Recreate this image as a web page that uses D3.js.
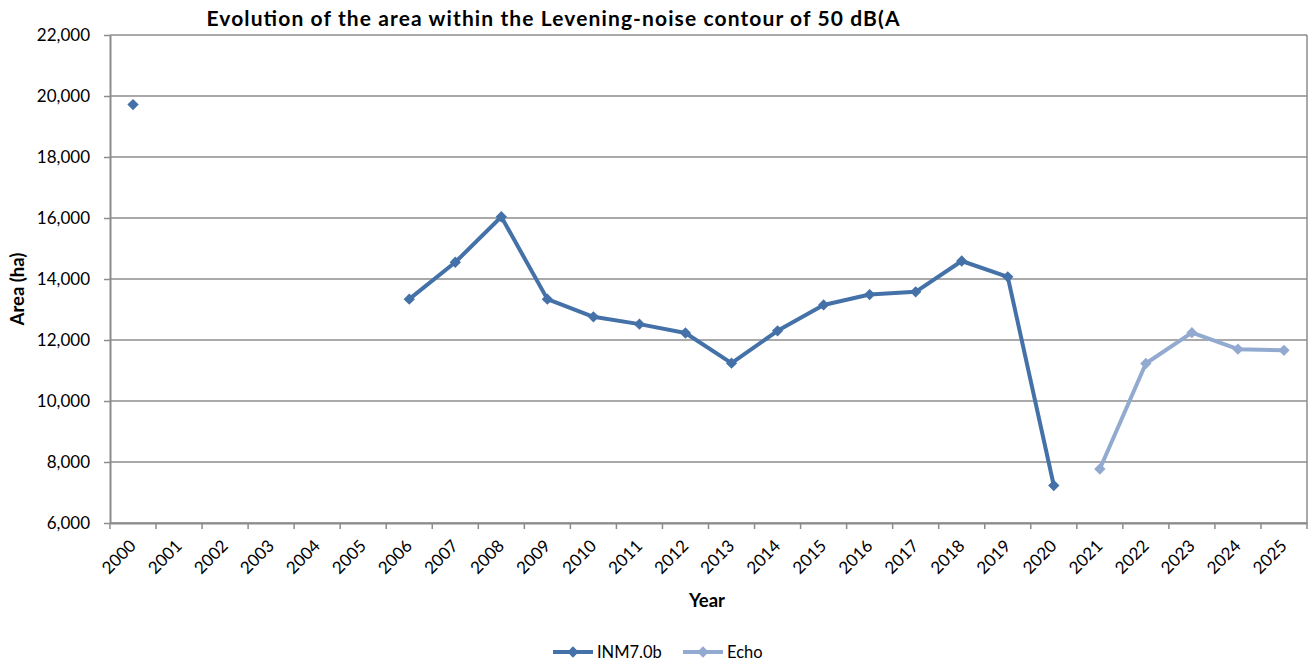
<!DOCTYPE html>
<html>
<head>
<meta charset="utf-8">
<script src="https://cdn.jsdelivr.net/npm/d3@7"></script>
<style>
  html, body { margin: 0; padding: 0; background: #fff; }
  svg { display: block; font-family: Lato, "Open Sans", sans-serif; }
</style>
</head>
<body>
<svg id="chart" width="1314" height="664"></svg>
<script>
const years = ["2000","2001","2002","2003","2004","2005","2006","2007","2008","2009","2010","2011","2012","2013","2014","2015","2016","2017","2018","2019","2020","2021","2022","2023","2024","2025"];
const inmValues = [19720, null, null, null, null, null, 13340, 14550, 16040, 13340, 12760, 12520, 12230, 11240, 12300, 13150, 13490, 13580, 14590, 14070, 7230, null, null, null, null, null];
const echoValues = [null, null, null, null, null, null, null, null, null, null, null, null, null, null, null, null, null, null, null, null, null, 7770, 11230, 12240, 11700, 11660];
const yTicks = [6000, 8000, 10000, 12000, 14000, 16000, 18000, 20000, 22000];
const seriesNames = ["INM7.0b", "Echo"];
const seriesColors = ["#4471A8", "#93AAD0"];
const titleText = "Evolution of the area within the Levening-noise contour of 50 dB(A";

const svg = d3.select("#chart");
const m = { left: 110, right: 1307, top: 35, bottom: 523 };

const x = d3.scaleBand().domain(years).range([m.left, m.right]).padding(0);
const y = d3.scaleLinear().domain([6000, 22000]).range([m.bottom, m.top]);
const gridColor = "#8c8c8c";

// gridlines
svg.append("g").selectAll("line").data(yTicks).join("line")
  .attr("x1", m.left).attr("x2", m.right)
  .attr("y1", d => y(d)).attr("y2", d => y(d))
  .attr("stroke", gridColor).attr("stroke-width", 1.5);

// right border
svg.append("line").attr("x1", m.right).attr("x2", m.right).attr("y1", m.top).attr("y2", m.bottom)
  .attr("stroke", gridColor).attr("stroke-width", 1.5);

// y axis
const yAxis = svg.append("g").attr("transform", `translate(${m.left},0)`)
  .call(d3.axisLeft(y).tickValues(yTicks).tickFormat(d3.format(",")).tickSize(6).tickSizeOuter(0));
yAxis.select(".domain").attr("stroke", gridColor).attr("stroke-width", 2);
yAxis.selectAll(".tick line").attr("stroke", gridColor).attr("stroke-width", 1.5);
yAxis.selectAll(".tick text").attr("font-size", 17).attr("fill", "#000").attr("x", -20)
  .attr("font-family", "Lato, sans-serif");

// x axis
const xAxis = svg.append("g").attr("transform", `translate(0,${m.bottom})`)
  .call(d3.axisBottom(x).tickSize(0).tickSizeOuter(0));
xAxis.select(".domain").attr("stroke", gridColor).attr("stroke-width", 2);
// category boundary ticks
svg.append("g").selectAll("line").data(years.concat(["end"])).join("line")
  .attr("x1", (d, i) => m.left + i * x.step()).attr("x2", (d, i) => m.left + i * x.step())
  .attr("y1", m.bottom).attr("y2", m.bottom + 6)
  .attr("stroke", gridColor).attr("stroke-width", 1.5);
xAxis.selectAll(".tick text")
  .attr("font-size", 17).attr("fill", "#000")
  .attr("font-family", "Lato, sans-serif")
  .attr("text-anchor", "end")
  .attr("dy", 0).attr("y", 0)
  .attr("transform", "translate(4,24) rotate(-45)");

// series
const line = d3.line().defined(d => d.v != null).x(d => x(d.year) + x.bandwidth() / 2).y(d => y(d.v));
const series = [inmValues, echoValues].map((vals, i) => ({
  name: seriesNames[i], color: seriesColors[i],
  pts: years.map((yr, j) => ({ year: yr, v: vals[j] }))
}));
const diamondPath = d3.symbol().type(d3.symbolSquare).size(64)();

series.forEach(s => {
  svg.append("path").datum(s.pts).attr("d", line)
    .attr("fill", "none").attr("stroke", s.color).attr("stroke-width", 4).attr("stroke-linejoin", "round");
  svg.append("g").selectAll("path").data(s.pts.filter(d => d.v != null)).join("path")
    .attr("d", diamondPath)
    .attr("transform", d => `translate(${x(d.year) + x.bandwidth() / 2},${y(d.v)}) rotate(45)`)
    .attr("fill", s.color);
});

// title
svg.append("text").attr("x", 553).attr("y", 26).attr("text-anchor", "middle")
  .attr("font-size", 21).attr("font-weight", "bold").attr("fill", "#000")
  .attr("textLength", 693).attr("lengthAdjust", "spacing").text(titleText);

// axis titles
svg.append("text").attr("transform", "translate(24,289) rotate(-90)").attr("text-anchor", "middle")
  .attr("font-size", 18.5).attr("font-weight", "bold").attr("fill", "#000").text("Area (ha)");
svg.append("text").attr("x", 707).attr("y", 607).attr("text-anchor", "middle")
  .attr("font-size", 18.5).attr("font-weight", "bold").attr("fill", "#000").text("Year");

// legend
const legendItems = [{ x: 553, tx: 597 }, { x: 683, tx: 727 }];
series.forEach((s, i) => {
  const L = legendItems[i];
  const g = svg.append("g");
  g.append("line").attr("x1", L.x).attr("x2", L.x + 40).attr("y1", 652).attr("y2", 652)
    .attr("stroke", s.color).attr("stroke-width", 4);
  g.append("path").attr("d", diamondPath).attr("transform", `translate(${L.x + 20},652) rotate(45)`).attr("fill", s.color);
  g.append("text").attr("x", L.tx).attr("y", 658).attr("font-size", 16.5).attr("fill", "#000").text(s.name);
});
</script>
</body>
</html>
